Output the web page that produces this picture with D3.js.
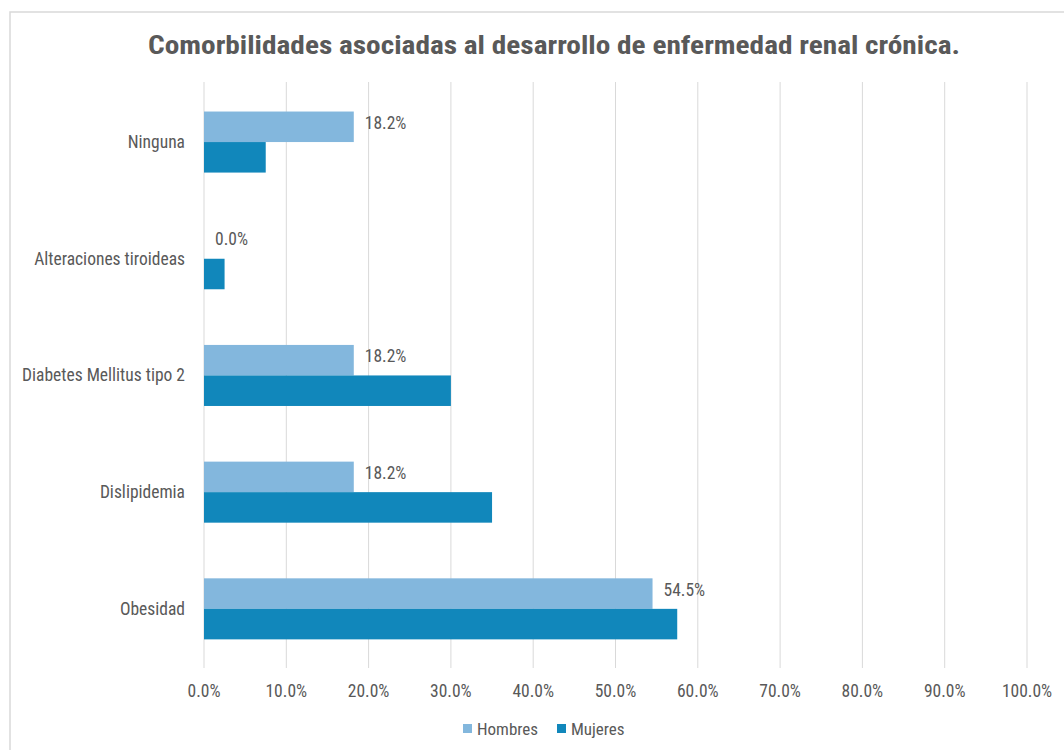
<!DOCTYPE html>
<html>
<head>
    <meta charset="utf-8" />
    <script src="https://d3js.org/d3.v7.min.js"></script>
    <title></title>
    <style>
        body { margin: 0; background: #fff; }
        text { font-family: "Liberation Sans Narrow", "Roboto Condensed", "Noto Sans", sans-serif; fill: #595959; }
    </style>
</head>
<body>
    <svg id="chart"></svg>
    <script type="text/javascript">
        // data
        var categories = ["Ninguna", "Alteraciones tiroideas", "Diabetes Mellitus tipo 2", "Dislipidemia", "Obesidad"];
        var seriesNames = ["Hombres", "Mujeres"];
        var hombres = [18.2, 0.0, 18.2, 18.2, 54.5];
        var mujeres = [7.5, 2.5, 30.0, 35.0, 57.5];
        var xTicks = [0, 10, 20, 30, 40, 50, 60, 70, 80, 90, 100];
        var colors = ["#83b7dd", "#1187bb"];

        var width = 1064, height = 750;
        var svg = d3.select('#chart').attr('width', width).attr('height', height);

        // light frame round the chart
        svg.append('rect')
            .attr('x', 10).attr('y', 12)
            .attr('width', width).attr('height', height)
            .attr('fill', 'none')
            .attr('stroke', '#d9d9d9')
            .attr('stroke-width', 1.5);

        var plotLeft = 204, plotRight = 1027, plotTop = 83.7, plotBottom = 667.2;

        var x = d3.scaleLinear().domain([0, 100]).range([plotLeft, plotRight]);
        var y = d3.scaleBand().domain(categories).range([plotTop, plotBottom]).paddingInner(0.477).paddingOuter(0.2385);
        var ySub = d3.scaleBand().domain(seriesNames).range([0, y.bandwidth()]);

        // gridlines
        svg.append('g').selectAll('line')
            .data(xTicks).enter().append('line')
            .attr('x1', function (d) { return x(d); })
            .attr('x2', function (d) { return x(d); })
            .attr('y1', 82).attr('y2', 668)
            .attr('stroke', '#d9d9d9')
            .attr('stroke-width', 1);

        // x tick labels
        svg.append('g').selectAll('text')
            .data(xTicks).enter().append('text')
            .attr('x', function (d) { return x(d); })
            .attr('y', 697)
            .attr('text-anchor', 'middle')
            .style('font-size', '17.5px')
            .text(function (d) { return d.toFixed(1) + '%'; });

        // category labels
        svg.append('g').selectAll('text')
            .data(categories).enter().append('text')
            .attr('x', 185)
            .attr('y', function (d) { return y(d) + y.bandwidth() / 2 + 6; })
            .attr('text-anchor', 'end')
            .style('font-size', '17.5px')
            .text(function (d) { return d; });

        var series = [hombres, mujeres];
        series.forEach(function (vals, s) {
            var g = svg.append('g');
            g.selectAll('rect')
                .data(categories).enter().append('rect')
                .attr('x', x(0))
                .attr('y', function (d) { return y(d) + ySub(seriesNames[s]); })
                .attr('width', function (d, i) { return x(vals[i]) - x(0); })
                .attr('height', ySub.bandwidth())
                .attr('fill', colors[s]);
        });

        // data labels only for Hombres
        svg.append('g').selectAll('text')
            .data(categories).enter().append('text')
            .attr('x', function (d, i) { return x(hombres[i]) + 11; })
            .attr('y', function (d) { return y(d) + ySub('Hombres') + ySub.bandwidth() / 2 + 2; })
            .style('font-size', '17.5px')
            .text(function (d, i) { return hombres[i].toFixed(1) + '%'; });

        // title
        svg.append('text')
            .attr('x', 554)
            .attr('y', 54)
            .attr('text-anchor', 'middle')
            .attr('textLength', 812)
            .attr('lengthAdjust', 'spacingAndGlyphs')
            .style('font-size', '25px')
            .style('font-weight', 'bold')
            .text('Comorbilidades asociadas al desarrollo de enfermedad renal crónica.');

        // legend
        var legendX = [463, 557];
        seriesNames.forEach(function (name, s) {
            svg.append('rect')
                .attr('x', legendX[s]).attr('y', 724)
                .attr('width', 9).attr('height', 9)
                .attr('fill', colors[s]);
            svg.append('text')
                .attr('x', legendX[s] + 14).attr('y', 735)
                .style('font-size', '17px')
                .text(name);
        });
    </script>
</body>
</html>
